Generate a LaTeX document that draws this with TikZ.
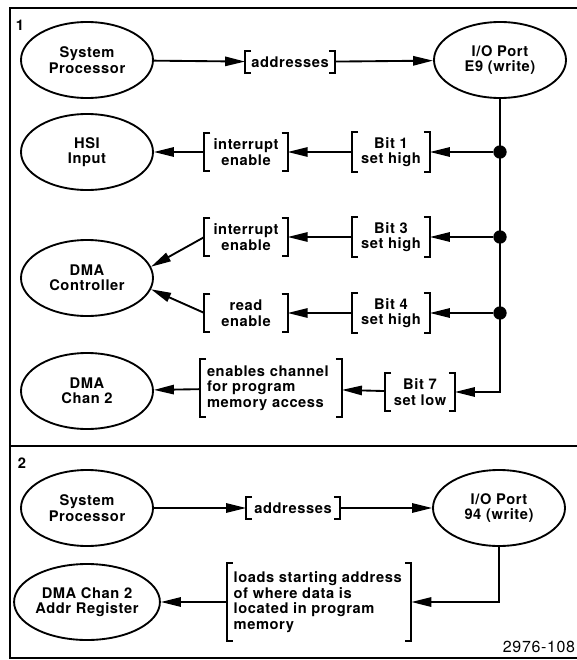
\documentclass[tikz,border=0pt]{standalone}
\usepackage{fontspec}
\setmainfont{TeX Gyre Heros}[LetterSpace=4]
\usetikzlibrary{shapes.geometric, arrows.meta}

\tikzset{
	unit/.style={draw, ellipse, line width=1.4pt, minimum width=99pt, minimum height=57pt, inner sep=0pt, align=center},
	tag/.style={inner xsep=6pt, inner ysep=4pt, align=center},
	bkt/.style={line width=1.4pt},
	arr/.style={line width=1.4pt, -{Triangle[length=15pt, width=7pt]}},
	dot/.style={circle, fill, inner sep=0pt, minimum size=10pt},
	frame/.style={line width=1.5pt}
}

\begin{document}
\begin{tikzpicture}[x=0.75pt, y=-0.75pt, every node/.style={font=\fontsize{11}{11.6}\selectfont\bfseries}]
	\useasboundingbox (0,0) rectangle (577,660);
	\draw[frame] (577,8) -- (10,8) -- (10,658) -- (577,658);
	\draw[frame] (10,446) -- (577,446);

	% part 1
	\node				(n1)	at (20,25)		{1};
	\node[unit]			(sp1)	at (87,60)		{System\\Processor};
	\node[unit]			(io1)	at (500,60)		{I/O Port\\E9 (write)};
	\node[unit]			(hsi)	at (87,152)		{HSI\\Input};
	\node[unit]			(dmac)	at (87,278)		{DMA\\Controller};
	\node[unit]			(chan)	at (87,391)		{DMA\\Chan 2};

	\node[tag, inner xsep=4.5pt]			(adr1)	at (290,62)		{addresses};
	\node[tag, minimum width=62pt]			(ien1)	at (246,152)	{interrupt\\enable};
	\node[tag, minimum width=58pt]			(bit1)	at (391,152)	{Bit 1\\set high};
	\node[tag, minimum width=62pt]			(ien3)	at (246,237)	{interrupt\\enable};
	\node[tag, minimum width=58pt]			(bit3)	at (391,237)	{Bit 3\\set high};
	\node[tag, minimum width=62pt]			(ren)	at (246,313)	{read\\enable};
	\node[tag, minimum width=58pt]			(bit4)	at (391,313)	{Bit 4\\set high};
	\node[tag, inner xsep=5pt, align=flush left, text width=96pt, minimum height=43.5pt]	(chen)	at (271,388)	{enables channel\\for program\\memory access};
	\node[tag, minimum width=52pt]			(bit7)	at (420,392)	{Bit 7\\set low};

	\node[dot]	(d1)	at (500,152)	{};
	\node[dot]	(d3)	at (500,237)	{};
	\node[dot]	(d4)	at (500,313)	{};

	\draw[arr] (sp1) -- (adr1);
	\draw[arr] (adr1) -- (io1);
	\draw[arr] (io1) |- (bit7);
	\draw[arr] (d1) -- (bit1);
	\draw[arr] (d3) -- (bit3);
	\draw[arr] (d4) -- (bit4);
	\draw[arr] (bit1) -- (ien1);
	\draw[arr] (bit3) -- (ien3);
	\draw[arr] (bit4) -- (ren);
	\draw[arr] (bit7) -- (chen);
	\draw[arr] (ien1) -- (hsi);
	\draw[arr] (ien3.west) -- (dmac.10);
	\draw[arr] (ren.west) -- (dmac.-10);
	\draw[arr] (chen) -- (chan);

	% part 2
	\node				(n2)	at (22,463)		{2};
	\node[unit]			(sp2)	at (87,508)		{System\\Processor};
	\node[unit]			(io2)	at (499,508)	{I/O Port\\94 (write)};
	\node[unit]			(reg)	at (87,602)		{DMA Chan 2\\Addr Register};
	\node[tag, inner xsep=4.5pt, minimum width=70pt]	(adr2)	at (293,508)	{addresses};
	\node[tag, inner xsep=5pt, align=flush left, text width=128pt, minimum height=58pt]	(load)	at (319,602)	{loads starting address\\of where data is\\located in program\\memory};

	\draw[arr] (sp2) -- (adr2);
	\draw[arr] (adr2) -- (io2);
	\draw[arr] (io2) |- (load);
	\draw[arr] (load) -- (reg);

	\foreach \n in {adr1, ien1, bit1, ien3, bit3, ren, bit4, chen, bit7, adr2, load} {
		\draw[bkt] ([xshift=4.5pt]\n.north west) -- (\n.north west) -- (\n.south west) -- ([xshift=4.5pt]\n.south west);
		\draw[bkt] ([xshift=-4.5pt]\n.north east) -- (\n.north east) -- (\n.south east) -- ([xshift=-4.5pt]\n.south east);
	}

	\node[font=\fontsize{12}{13}\selectfont\mdseries]	(fig)	at (539,647)	{2976-108};
\end{tikzpicture}
\end{document}
